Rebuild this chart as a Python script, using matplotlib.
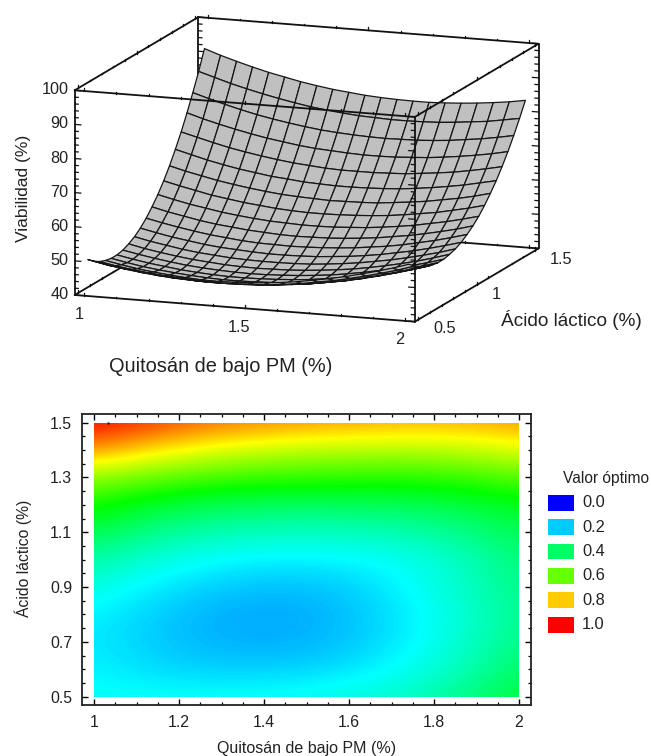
import numpy as np
import matplotlib
matplotlib.use('Agg')
import matplotlib.pyplot as plt
from matplotlib.colors import LinearSegmentedColormap
from matplotlib.patches import Rectangle
from matplotlib.ticker import MultipleLocator, FuncFormatter
from mpl_toolkits.mplot3d import proj3d

plt.rcParams['font.family'] = ['Liberation Sans', 'DejaVu Sans']
W, H = 651, 756
fig = plt.figure(figsize=(W/100, H/100), dpi=100, facecolor='white')

# ---------- data
quit_nodes = [1.00,1.05,1.10,1.15,1.20,1.25,1.30,1.35,1.40,1.45,1.50,1.55,1.60,1.65,1.70,1.75,1.80,1.85,1.90,1.95,2.00]
acid_nodes = [0.50,0.55,0.60,0.65,0.70,0.75,0.80,0.85,0.90,0.95,1.00,1.05,1.10,1.15,1.20,1.25,1.30,1.35,1.40,1.45,1.50]
# viabilidad[j][i]: acid_nodes[j], quit_nodes[i]
viabilidad = [
 [50.0,49.1,48.4,47.8,47.3,46.9,46.7,46.5,46.5,46.7,46.9,47.3,47.7,48.3,49.1,49.9,50.9,52.0,53.2,54.5,56.0],
 [48.5,47.6,46.9,46.3,45.8,45.4,45.2,45.0,45.0,45.2,45.4,45.7,46.2,46.8,47.6,48.4,49.4,50.5,51.7,53.0,54.5],
 [47.4,46.5,45.8,45.2,44.7,44.3,44.0,43.9,43.9,44.0,44.2,44.6,45.1,45.6,46.4,47.2,48.2,49.3,50.5,51.8,53.3],
 [46.7,45.8,45.0,44.4,43.9,43.5,43.2,43.1,43.1,43.2,43.4,43.7,44.2,44.8,45.5,46.3,47.3,48.4,49.6,50.9,52.3],
 [46.3,45.4,44.6,44.0,43.5,43.1,42.8,42.6,42.6,42.7,42.9,43.2,43.7,44.3,45.0,45.8,46.7,47.8,49.0,50.3,51.7],
 [46.3,45.4,44.6,44.0,43.4,43.0,42.7,42.5,42.5,42.6,42.8,43.1,43.5,44.1,44.8,45.6,46.5,47.6,48.7,50.0,51.4],
 [46.7,45.8,45.0,44.3,43.7,43.3,43.0,42.8,42.7,42.8,43.0,43.3,43.7,44.2,44.9,45.7,46.6,47.6,48.8,50.0,51.4],
 [47.5,46.5,45.7,45.0,44.4,44.0,43.6,43.4,43.3,43.4,43.5,43.8,44.2,44.7,45.3,46.1,47.0,48.0,49.1,50.4,51.8],
 [48.6,47.6,46.8,46.0,45.4,45.0,44.6,44.4,44.3,44.3,44.4,44.6,45.0,45.5,46.1,46.9,47.7,48.7,49.8,51.0,52.4],
 [50.1,49.1,48.2,47.5,46.8,46.3,46.0,45.7,45.5,45.5,45.6,45.8,46.2,46.6,47.2,47.9,48.8,49.7,50.8,52.0,53.3],
 [52.0,51.0,50.1,49.3,48.6,48.1,47.6,47.3,47.2,47.1,47.2,47.4,47.7,48.1,48.7,49.3,50.1,51.1,52.1,53.3,54.6],
 [54.3,53.2,52.3,51.4,50.7,50.2,49.7,49.4,49.1,49.0,49.1,49.2,49.5,49.9,50.4,51.1,51.8,52.7,53.7,54.8,56.1],
 [56.9,55.8,54.8,54.0,53.2,52.6,52.1,51.7,51.5,51.3,51.3,51.4,51.7,52.0,52.5,53.1,53.8,54.7,55.6,56.7,57.9],
 [59.9,58.8,57.8,56.8,56.1,55.4,54.9,54.4,54.1,53.9,53.9,54.0,54.2,54.5,54.9,55.5,56.2,56.9,57.9,58.9,60.1],
 [63.3,62.1,61.1,60.1,59.3,58.6,58.0,57.5,57.2,57.0,56.8,56.9,57.0,57.2,57.7,58.2,58.8,59.6,60.4,61.4,62.6],
 [67.1,65.9,64.7,63.7,62.8,62.1,61.4,61.0,60.5,60.3,60.1,60.1,60.2,60.4,60.7,61.2,61.8,62.5,63.3,64.3,65.3],
 [71.2,70.0,68.8,67.7,66.8,66.0,65.3,64.7,64.3,63.9,63.7,63.7,63.7,63.9,64.1,64.6,65.1,65.7,66.5,67.4,68.4],
 [75.8,74.4,73.2,72.1,71.1,70.2,69.5,68.8,68.3,68.0,67.7,67.5,67.5,67.6,67.9,68.2,68.7,69.3,70.0,70.8,71.8],
 [80.7,79.3,78.0,76.8,75.7,74.8,74.0,73.3,72.7,72.3,72.0,71.8,71.7,71.8,71.9,72.2,72.6,73.2,73.8,74.6,75.5],
 [85.9,84.5,83.1,81.9,80.8,79.8,78.9,78.1,77.5,77.0,76.6,76.4,76.2,76.2,76.3,76.5,76.9,77.4,77.9,78.7,79.5],
 [91.6,90.0,88.6,87.3,86.1,85.1,84.1,83.3,82.6,82.1,81.6,81.3,81.1,81.0,81.0,81.2,81.5,81.9,82.4,83.0,83.8],
]

# opt[k][m]: opt_y[k], opt_x[m]
opt_x = [1.0, 1.1, 1.2, 1.3, 1.4, 1.5, 1.6, 1.7, 1.8, 1.9, 2.0]
opt_y = [1.5, 1.4, 1.3, 1.2, 1.1, 1.0, 0.9, 0.8, 0.7, 0.6, 0.5]
opt = [
 [1.00,.96,.92,.89,.87,.855,.845,.835,.83,.835,.85],
 [.85,.80,.755,.72,.70,.685,.68,.675,.68,.695,.72],
 [.64,.61,.585,.565,.555,.55,.545,.54,.545,.56,.585],
 [.52,.47,.44,.42,.41,.405,.41,.415,.425,.445,.47],
 [.42,.38,.345,.325,.315,.31,.315,.325,.345,.38,.42],
 [.34,.30,.27,.25,.24,.24,.245,.26,.285,.33,.38],
 [.28,.245,.22,.20,.19,.19,.205,.235,.275,.32,.37],
 [.24,.215,.19,.172,.168,.172,.19,.22,.26,.31,.36],
 [.23,.21,.19,.178,.172,.178,.195,.225,.265,.315,.37],
 [.24,.225,.21,.205,.205,.21,.225,.25,.29,.34,.40],
 [.26,.26,.26,.26,.265,.27,.285,.30,.335,.385,.44],
]
legend_vals = [0.0, 0.2, 0.4, 0.6, 0.8, 1.0]
optimum_x = [1.033]
optimum_y = [1.497]

# ---------- 3D panel
XL, YL, ZL = (0.97, 2.03), (0.47, 1.53), (40, 100)
side = 560
ax = fig.add_axes([0.1, 0.4, side/W, side/H], projection='3d')
ax.set_proj_type('ortho')
ax.view_init(elev=12.44, azim=-70)
ax.set_box_aspect((362.4, 362, 209.9))
ax.set_xlim(*XL, view_margin=0); ax.set_ylim(*YL, view_margin=0); ax.set_zlim(*ZL, view_margin=0)
ax.set_axis_off()
ax.patch.set_alpha(0)
ax.computed_zorder = False

def px(x, y, z):
    X, Y, _ = proj3d.proj_transform(x, y, z, ax.get_proj())
    return ax.transData.transform((X, Y))

# fit the box to its place on the page
ax.apply_aspect()
a, b = px(XL[0], YL[0], ZL[0]), px(XL[1], YL[1], ZL[0])
scale = (538.5-74.7)/(b[0]-a[0])
side *= scale
ax.set_position([0.1, 0.4, side/W, side/H]); ax.apply_aspect()
a = px(XL[0], YL[0], ZL[0])
dx, dy = 74.7-a[0], (H-295)-a[1]
pos = ax.get_position()
ax.set_position([pos.x0+dx/W, pos.y0+dy/H, pos.width, pos.height]); ax.apply_aspect()

LW = 1.3
C = '#111111'
def seg(p, q, zo):
    ax.plot([p[0], q[0]], [p[1], q[1]], [p[2], q[2]], color=C, lw=LW, zorder=zo, solid_capstyle='round')

x0, x1 = XL; y0, y1 = YL; z0, z1 = ZL
back = [((x0,y1,z0),(x1,y1,z0)), ((x0,y0,z0),(x0,y1,z0)), ((x0,y1,z0),(x0,y1,z1))]
front = [((x0,y0,z1),(x1,y0,z1)), ((x1,y0,z0),(x1,y0,z1)), ((x1,y0,z1),(x1,y1,z1)),
         ((x0,y0,z0),(x1,y0,z0)), ((x0,y0,z0),(x0,y0,z1)), ((x1,y0,z0),(x1,y1,z0)),
         ((x1,y1,z0),(x1,y1,z1)), ((x0,y1,z1),(x1,y1,z1)), ((x0,y0,z1),(x0,y1,z1))]
for p, q in back: seg(p, q, 1)
for p, q in front: seg(p, q, 3)

# z ticks
for z in np.arange(40, 101, 2):
    L = 0.019 if z % 10 == 0 else 0.011
    for xe, ye, s, zo in [(x0,y0,1,3),(x1,y0,-1,3),(x0,y1,1,1),(x1,y1,-1,3)]:
        ax.plot([xe, xe+s*L], [ye, ye], [z, z], color=C, lw=0.9, zorder=zo)
# x, y edge ticks
for t in np.arange(1, 2.01, 0.1):
    L = 0.9 if round(t*10) % 5 == 0 else 0.5
    for ye, ze in [(y0,z0),(y0,z1),(y1,z0),(y1,z1)]:
        ax.plot([t, t], [ye, ye], [ze, ze+L], color=C, lw=0.9, zorder=3 if ye == y0 else 1)
for t in np.arange(0.5, 1.51, 0.1):
    L = 0.9 if round(t*10) % 5 == 0 else 0.5
    for xe, ze in [(x0,z0),(x0,z1),(x1,z0),(x1,z1)]:
        ax.plot([xe, xe], [t, t], [ze, ze+L], color=C, lw=0.9, zorder=1 if (xe==x0 and ze==z0) else 3)

Xg, Yg = np.meshgrid(quit_nodes, acid_nodes)
ax.plot_surface(Xg, Yg, np.array(viabilidad), rstride=1, cstride=1, color='#c0c0c0', shade=False,
                edgecolor='#161616', linewidth=0.9, antialiased=True, zorder=2)
ax.set_xlim(*XL, view_margin=0); ax.set_ylim(*YL, view_margin=0); ax.set_zlim(*ZL, view_margin=0)

FS = 11.7
TC = '#222222'
def text3(x, y, z, s, ha):
    p = px(x, y, z)
    fig.text(p[0]/W, p[1]/H, s, ha=ha, va='center', fontsize=FS, color=TC)
for z in range(40, 101, 10):
    text3(x0-0.0187, y0, z, str(z), 'right')
for t, s in [(1, '1'), (1.5, '1.5'), (2, '2')]:
    text3(t-0.017, y0, z0-5.7, s, 'center')
for t, s in [(0.5, '0.5'), (1, '1'), (1.5, '1.5')]:
    text3(x1+0.047, t, z0-2.3, s, 'left')

def ptext(x, y, s, **k):
    fig.text(x/W, 1-y/H, s, ha='center', va='center', color=TC, **k)
ptext(221, 367, 'Quitosán de bajo PM (%)', fontsize=14.4)
ptext(571, 320, 'Ácido láctico (%)', fontsize=13.7)
ptext(23.7, 188, 'Viabilidad (%)', fontsize=12.6, rotation=90)

# ---------- map panel
cmap = LinearSegmentedColormap.from_list('opt', [(0,'#0000ff'),(.25,'#00ffff'),(.5,'#00ff00'),(.75,'#ffff00'),(1,'#ff0000')])
a2 = fig.add_axes([81.8/W, 1-705/H, (531.4-81.8)/W, (705-414.3)/H])
im = a2.imshow(np.array(opt), extent=(opt_x[0]-0.05, opt_x[-1]+0.05, opt_y[-1]-0.05, opt_y[0]+0.05),
               origin='upper', aspect='auto', cmap=cmap, vmin=0, vmax=1, interpolation='bicubic', zorder=1)
im.set_clip_path(Rectangle((opt_x[0], opt_y[-1]), opt_x[-1]-opt_x[0], opt_y[0]-opt_y[-1], transform=a2.transData))
a2.scatter(optimum_x, optimum_y, s=3, color='#222222', zorder=2, linewidths=0)
a2.set_xlim(0.971, 2.029); a2.set_ylim(0.47, 1.53)
a2.xaxis.set_major_locator(MultipleLocator(0.2)); a2.xaxis.set_minor_locator(MultipleLocator(0.05))
a2.set_yticks([0.5, 0.7, 0.9, 1.1, 1.3, 1.5])
a2.set_yticks(np.arange(0.5, 1.501, 0.05), minor=True)
a2.xaxis.set_major_formatter(FuncFormatter(lambda v, _: f'{v:g}'))
a2.tick_params(which='major', direction='in', length=4, width=1.0, top=True, right=True, labelsize=11.4, labelcolor=TC, pad=7)
a2.tick_params(which='minor', direction='in', length=2.2, width=0.9, top=True, right=True)
for sp in a2.spines.values():
    sp.set_linewidth(1.3); sp.set_color('#222222')
ptext(307, 748, 'Quitosán de bajo PM (%)', fontsize=11.5)
ptext(23.7, 558, 'Ácido láctico (%)', fontsize=11.3, rotation=90)

# legend
ptext(606, 479, 'Valor óptimo', fontsize=11.2)
for i, v in enumerate(legend_vals):
    yc = 502.7 + i*24.4
    fig.add_artist(Rectangle((548/W, 1-(yc+7.8)/H), 26/W, 15.6/H, transform=fig.transFigure, facecolor=cmap(v), edgecolor='none'))
    fig.text(582/W, 1-yc/H, f'{v:.1f}', ha='left', va='center', fontsize=11.8, color=TC)

fig.savefig('out.png', dpi=100)
